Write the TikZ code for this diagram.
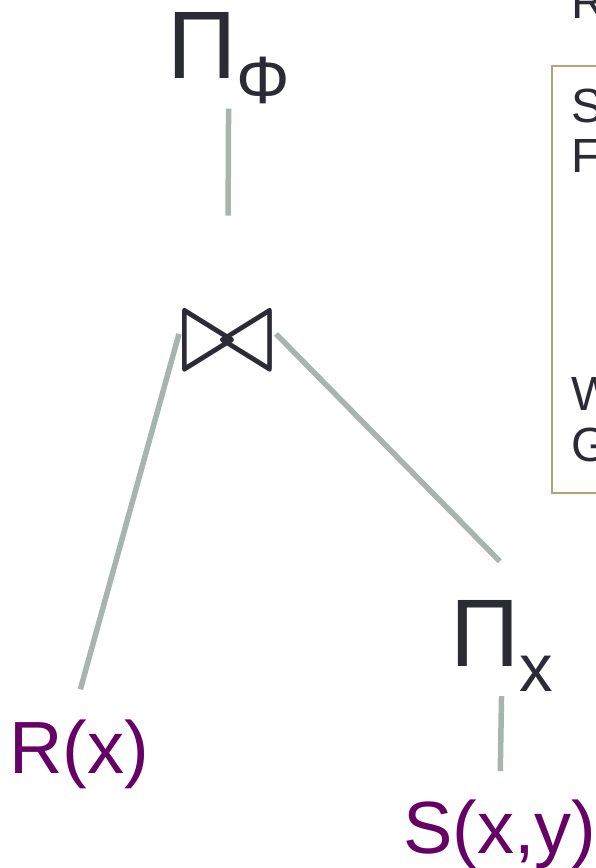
\documentclass[tikz,border=0pt]{standalone}
\usepackage{fontspec}
\setmainfont{Liberation Sans}
\usepackage{graphicx}
\usetikzlibrary{positioning,calc}
\definecolor{opink}{HTML}{2B2B36}
\definecolor{relpurple}{HTML}{660066}
\definecolor{edgegrey}{HTML}{A8B4AE}
\definecolor{sqltan}{HTML}{BCA07A}
\newcommand{\opsize}{\fontsize{96}{96}\selectfont}
\newcommand{\subsize}{\fontsize{67}{67}\selectfont}
\newcommand{\relsize}{\fontsize{74}{74}\selectfont}
\newcommand{\sqlsize}{\fontsize{48}{50}\selectfont}

\begin{document}
\begin{tikzpicture}[x=1pt,y=-1pt,
    op/.style={inner sep=0pt, anchor=base west, text=opink},
    rel/.style={inner sep=0pt, anchor=base west, text=relpurple, font=\relsize},
    sql/.style={inner sep=0pt, anchor=base west, text=opink, font=\sqlsize},
    link/.style={draw=edgegrey, line width=5.5pt}]
    \useasboundingbox (0,0) rectangle (596,868);
    \clip (0,0) rectangle (596,868);

    % Query text box (cut off on the right)
    \draw[sqltan, line width=2.5pt] (552,66) rectangle (640,493);
    \node[sql] (sqlr) at (571,18) {R};
    \node[sql] (sqls) at (571,122) {S};
    \node[sql] (sqlf) at (571,172) {F};
    \node[sql] (sqlw) at (571,410) {W};
    \node[sql] (sqlg) at (571,461) {G};

    % Operators
    \node[op, font=\opsize] (projphi) at (167,78) {Π\lower25pt\hbox{\subsize Φ}};
    \node[op, anchor=center] (join) at (227.5,342.5) {\scalebox{11.6}[12.5]{$\bowtie$}};
    \node[op, font=\opsize] (projx) at (450,666) {Π\lower25pt\hbox{\subsize x}};

    % Relations
    \node[rel] (rx) at (9,773) {R(x)};
    \node[rel] (sxy) at (403,853) {S(x,y)};

    % Edges
    \draw[link, shorten <=5pt, shorten >=127pt] (projphi.south) -- (join.center);
    \draw[link, shorten >=31pt] (join.170) -- ($(rx.north)+(-7,0)$);
    \draw[link, shorten >=54pt] (join.10) -- ($(projx.north)+(36,0)$);
    \draw[link, shorten <=5pt, shorten >=28pt] (projx.south) -- (sxy.north);
\end{tikzpicture}
\end{document}
